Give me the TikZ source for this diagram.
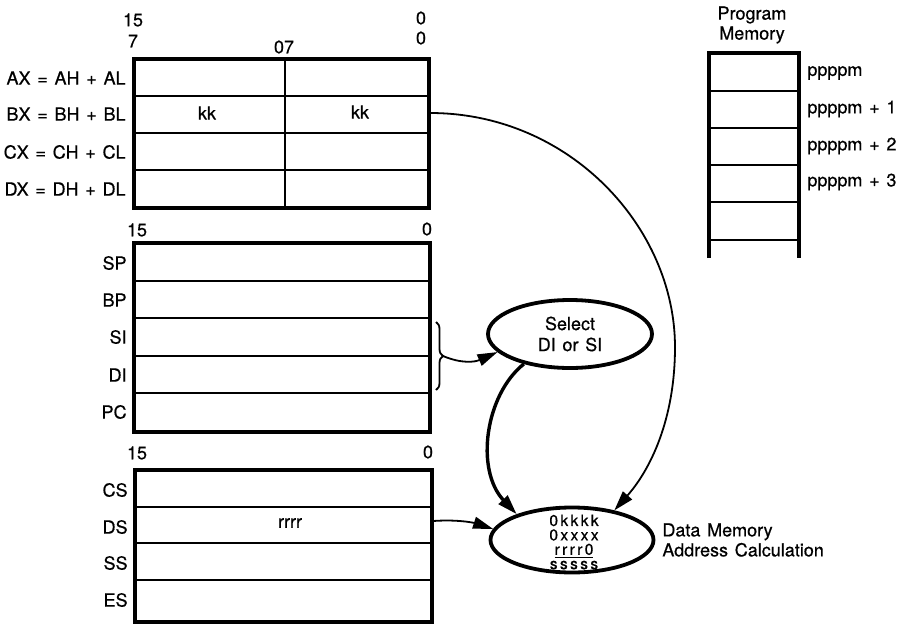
\documentclass[tikz,border=0pt]{standalone}
\usepackage{fontspec}
\setmainfont[WordSpace=1.35,FakeBold=0.6]{TeX Gyre Heros}
\newfontfamily\dmfont[LetterSpace=15,FakeBold=0.6]{TeX Gyre Heros}
\usetikzlibrary{arrows.meta,shapes.geometric,decorations.pathreplacing}
\begin{document}
\begin{tikzpicture}[x=0.5pt,y=-0.5pt, font=\fontsize{9}{10.5}\selectfont,
  outer/.style={line width=1.9pt},
  inner/.style={line width=1.2pt},
  lbl/.style={anchor=east, inner sep=0pt},
  num/.style={inner sep=0pt},
  oval/.style={ellipse, draw, line width=1.9pt, inner sep=0pt},
  conn/.style={line width=0.9pt, -{Triangle[length=10pt,width=6pt]}},
  thickconn/.style={line width=1.7pt, -{Triangle[length=10pt,width=6pt]}}]
\useasboundingbox (0,0) rectangle (907,638);

% general registers
\draw[inner] (134,96) -- (429,96) (134,133) -- (429,133) (134,170) -- (429,170) (285,59) -- (285,208);
\draw[outer] (134,59) rectangle (429,208);
\node[num] (h15) at (133,20) {15};
\node[num] (h7) at (133,41) {7};
\node[num] (h07) at (284,47) {07};
\node[num] (h0a) at (421,18) {0};
\node[num] (h0b) at (421,38) {0};
\node[lbl] (ax) at (126,78) {AX = AH + AL};
\node[lbl] (bx) at (126,114) {BX = BH + BL};
\node[lbl] (cx) at (126,152) {CX = CH + CL};
\node[lbl] (dx) at (126,189) {DX = DH + DL};
\node (kk1) at (207,113) {kk};
\node (kk2) at (360,112) {kk};

% pointer and index registers
\draw[inner] (134,281) -- (430,281) (134,318) -- (430,318) (134,356) -- (430,356) (134,393) -- (430,393);
\draw[outer] (134,243) rectangle (430,432);
\node[num] (p15) at (137,230) {15};
\node[num] (p0) at (427,229) {0};
\node[lbl] (sp) at (127,263) {SP};
\node[lbl] (bp) at (127,300) {BP};
\node[lbl] (si) at (127,337) {SI};
\node[lbl] (di) at (127,375) {DI};
\node[lbl] (pc) at (127,412) {PC};

% segment registers
\draw[inner] (135,507) -- (432,507) (135,543) -- (432,543) (135,580) -- (432,580);
\draw[outer] (135,470) rectangle (432,622);
\node[num] (s15) at (137,453) {15};
\node[num] (s0) at (428,452) {0};
\node[lbl] (cs) at (128,490) {CS};
\node[lbl] (ds) at (128,527) {DS};
\node[lbl] (ss) at (128,563) {SS};
\node[lbl] (es) at (128,600) {ES};
\node (rrrr) at (290,523) {rrrr};

% program memory
\node[align=center, font=\fontsize{9}{10}\selectfont] (pm) at (752,25) {Program\\Memory};
\draw[inner] (709,91) -- (799,91) (709,128) -- (799,128) (709,165) -- (799,165) (709,202) -- (799,202) (709,240) -- (799,240);
\draw[outer] (709,258) -- (709,53) -- (799,53) -- (799,258);
\node[anchor=west, inner sep=0pt] (m0) at (807,73) {ppppm};
\node[anchor=west, inner sep=0pt] (m1) at (807,109) {ppppm + 1};
\node[anchor=west, inner sep=0pt] (m2) at (807,146) {ppppm + 2};
\node[anchor=west, inner sep=0pt] (m3) at (807,182) {ppppm + 3};

% ovals
\node[oval, minimum width=82pt, minimum height=34pt, align=center] (sel) at (570,334) {Select\\DI or SI};
\node[oval, minimum width=81.5pt, minimum height=32.5pt] (dm) at (572,540) {};
\node[align=center, inner sep=0pt, font=\dmfont\fontsize{7.8}{7.2}\selectfont] (dmt) at (574,542) {0kkkk\\0xxxx\\\underline{rrrr0}\\sssss};
\node[anchor=west, align=left, inner sep=0pt, font=\fontsize{9}{10}\selectfont] (dml) at (662,540) {Data Memory\\Address Calculation};

% connectors
\coordinate (bxr) at (430,113);
\coordinate (dsr) at (433,521);
\coordinate (bt) at (443,356);
\draw[line width=0.9pt, decorate, decoration={brace, amplitude=3.5pt}] (436,322) -- (436,390);
\draw[conn] (bxr) .. controls (570,113) and (675,228) .. (675,347) .. controls (675,420) and (650,470) .. (dm.35);
\draw[conn] (bt) .. controls (462,364) and (475,362) .. (sel.194);
\draw[conn] (dsr) .. controls (462,519) and (478,524) .. (dm.172);
\draw[thickconn] (sel.213) .. controls (485,395) and (475,470) .. (dm.155);
\end{tikzpicture}
\end{document}
